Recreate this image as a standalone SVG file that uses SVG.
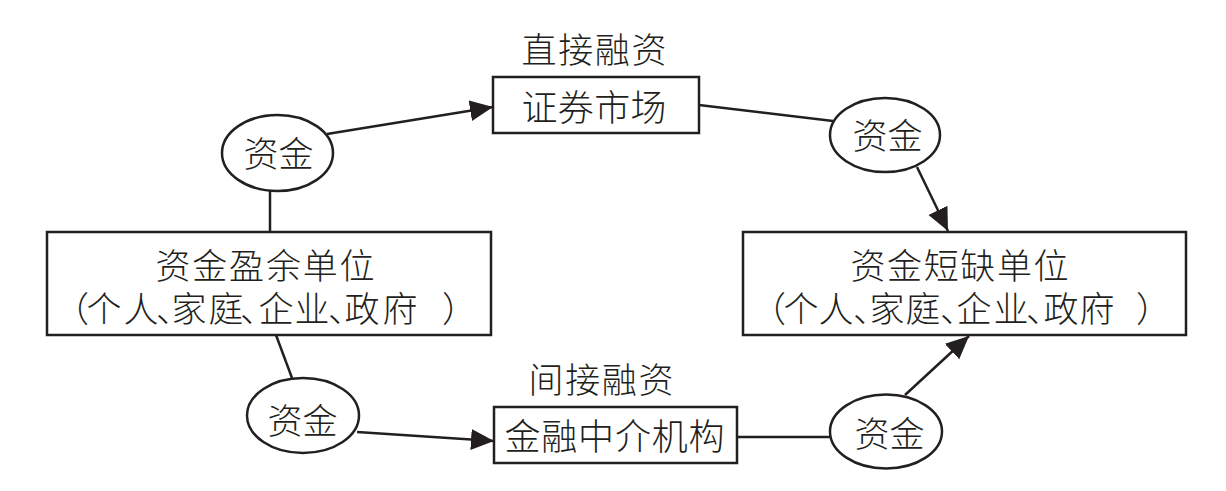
<svg xmlns="http://www.w3.org/2000/svg" width="1226" height="491" viewBox="0 0 1226 491">
<style>
  .bg { fill: #ffffff; }
  .box { fill: #ffffff; stroke: #231f20; stroke-width: 2.5; }
  .oval { fill: #ffffff; stroke: #231f20; stroke-width: 2.5; }
  .conn { fill: none; stroke: #231f20; stroke-width: 2.5; }
  .t { font-family: "Noto Sans CJK SC", "Noto Sans CJK TC", sans-serif; font-weight: 300; fill: #231f20; text-anchor: middle; dominant-baseline: central; }
  .s32 { font-size: 35px; }
  .s33 { font-size: 36px; }
</style>
<defs>
  <marker id="arrow" markerUnits="userSpaceOnUse" markerWidth="26" markerHeight="22" refX="23" refY="10.5" orient="auto">
    <path d="M0,0 L23,10.5 L0,21 Z" fill="#231f20"/>
  </marker>
</defs>
<rect class="bg" x="0" y="0" width="1226" height="491"/>

<g id="connectors">
  <line class="conn" x1="270" y1="191" x2="270" y2="232"/>
  <line class="conn" x1="327" y1="134" x2="493" y2="107" marker-end="url(#arrow)"/>
  <line class="conn" x1="699" y1="105" x2="833" y2="121"/>
  <line class="conn" x1="917" y1="167" x2="948" y2="231" marker-end="url(#arrow)"/>
  <line class="conn" x1="276" y1="335" x2="292" y2="378"/>
  <line class="conn" x1="357" y1="432" x2="494" y2="441" marker-end="url(#arrow)"/>
  <line class="conn" x1="737" y1="437" x2="830" y2="437"/>
  <line class="conn" x1="905" y1="395" x2="969" y2="336" marker-end="url(#arrow)"/>
</g>

<g id="label-direct">
  <text class="t s32" x="539 575.7 612.3 649" y="47">直接融资</text>
</g>

<g id="securities-market">
  <rect class="box" x="493" y="77" width="206" height="56"/>
  <text class="t s33" x="539.5 575.8 612.2 648.5" y="105">证券市场</text>
</g>

<g id="fund-oval-1">
  <ellipse class="oval" cx="277.5" cy="153" rx="55.5" ry="38"/>
  <text class="t s32" x="261 296" y="151">资金</text>
</g>

<g id="fund-oval-2">
  <ellipse class="oval" cx="885" cy="135" rx="55" ry="37"/>
  <text class="t s32" x="870 905" y="133">资金</text>
</g>

<g id="surplus-units">
  <rect class="box" x="47" y="232" width="444" height="103"/>
  <text class="t s32" x="173 209.8 246.6 283.4 320.2 357" y="263">资金盈余单位</text>
  <text class="t s32" x="71.5 104 141 173.5 189 226 257.5 276 312 345.5 362 400 459.5" y="306">（个人、家庭、企业、政府）</text>
</g>

<g id="deficit-units">
  <rect class="box" x="743" y="232" width="443" height="103"/>
  <text class="t s32" x="868 904.6 941.2 977.8 1014.4 1051" y="263">资金短缺单位</text>
  <text class="t s32" x="768.5 801 836 870.5 887 923 957.5 974 1011 1043.5 1061 1097 1153.5" y="306">（个人、家庭、企业、政府）</text>
</g>

<g id="label-indirect">
  <text class="t s32" x="546 582.7 619.3 656" y="377">间接融资</text>
</g>

<g id="fund-oval-3">
  <ellipse class="oval" cx="303" cy="415.5" rx="56" ry="37.5"/>
  <text class="t s32" x="285 320" y="418">资金</text>
</g>

<g id="financial-intermediary">
  <rect class="box" x="494" y="407" width="243" height="56"/>
  <text class="t s33" x="522.5 559.3 596.1 632.9 669.7 706.5" y="434">金融中介机构</text>
</g>

<g id="fund-oval-4">
  <ellipse class="oval" cx="886" cy="431.5" rx="56" ry="37"/>
  <text class="t s32" x="872 907" y="431">资金</text>
</g>
</svg>
